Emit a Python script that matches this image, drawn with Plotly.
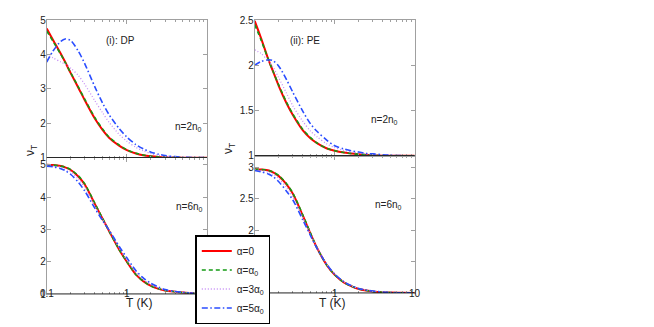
import math
import plotly.graph_objects as go

W, H = 654, 327

# Temperature grid (K)
T = [0.1, 0.12, 0.15, 0.17, 0.2, 0.25, 0.3, 0.4, 0.5, 0.6, 0.8, 1.0, 1.3, 1.6, 2, 2.5, 3, 4, 5, 7, 10]

# (i) DP, n = 2 n0
dp2_a0 = [4.75, 4.42, 4.02, 3.78, 3.45, 3.02, 2.66, 2.13, 1.80, 1.58, 1.35, 1.22, 1.12, 1.07, 1.04, 1.02, 1.01, 1.005, 1.0, 1.0, 1.0]
dp2_a1 = [4.68, 4.38, 4.00, 3.77, 3.46, 3.04, 2.69, 2.16, 1.83, 1.60, 1.37, 1.23, 1.13, 1.08, 1.04, 1.02, 1.01, 1.005, 1.0, 1.0, 1.0]
dp2_a3 = [4.00, 3.90, 3.78, 3.72, 3.60, 3.38, 3.12, 2.65, 2.30, 2.03, 1.68, 1.48, 1.30, 1.20, 1.12, 1.07, 1.045, 1.02, 1.01, 1.0, 1.0]
dp2_a5 = [3.78, 4.10, 4.38, 4.45, 4.40, 4.08, 3.72, 3.05, 2.58, 2.25, 1.85, 1.60, 1.38, 1.26, 1.16, 1.10, 1.06, 1.03, 1.015, 1.005, 1.0]

# (ii) PE, n = 2 n0
pe2_a0 = [2.49, 2.30, 2.05, 1.93, 1.77, 1.58, 1.45, 1.28, 1.19, 1.14, 1.08, 1.055, 1.035, 1.025, 1.015, 1.01, 1.005, 1.0, 1.0, 1.0, 1.0]
pe2_a1 = [2.45, 2.28, 2.05, 1.93, 1.78, 1.59, 1.46, 1.29, 1.20, 1.14, 1.08, 1.055, 1.035, 1.025, 1.015, 1.01, 1.005, 1.0, 1.0, 1.0, 1.0]
pe2_a3 = [2.17, 2.13, 2.04, 1.98, 1.86, 1.69, 1.55, 1.38, 1.27, 1.21, 1.13, 1.09, 1.06, 1.04, 1.03, 1.02, 1.015, 1.01, 1.005, 1.0, 1.0]
pe2_a5 = [2.00, 2.04, 2.06, 2.05, 1.99, 1.84, 1.70, 1.49, 1.35, 1.27, 1.17, 1.11, 1.075, 1.055, 1.04, 1.025, 1.02, 1.01, 1.005, 1.0, 1.0]

# (i) DP, n = 6 n0
dp6_a0 = [5.00, 4.99, 4.96, 4.92, 4.84, 4.63, 4.38, 3.78, 3.32, 2.95, 2.38, 2.00, 1.60, 1.40, 1.25, 1.16, 1.11, 1.07, 1.045, 1.02, 1.01]
dp6_a1 = [5.00, 4.99, 4.96, 4.93, 4.85, 4.65, 4.40, 3.80, 3.33, 2.95, 2.38, 2.00, 1.60, 1.40, 1.25, 1.16, 1.11, 1.07, 1.045, 1.02, 1.01]
dp6_a3 = [4.98, 4.96, 4.92, 4.87, 4.78, 4.55, 4.30, 3.72, 3.30, 2.97, 2.43, 2.05, 1.66, 1.45, 1.29, 1.18, 1.12, 1.07, 1.045, 1.02, 1.01]
dp6_a5 = [4.96, 4.94, 4.88, 4.82, 4.70, 4.45, 4.18, 3.65, 3.27, 2.98, 2.48, 2.12, 1.72, 1.50, 1.33, 1.21, 1.14, 1.08, 1.05, 1.02, 1.01]

# (ii) PE, n = 6 n0
pe6_a0 = [2.97, 2.965, 2.95, 2.92, 2.86, 2.73, 2.58, 2.23, 1.94, 1.72, 1.44, 1.29, 1.17, 1.11, 1.065, 1.04, 1.025, 1.012, 1.006, 1.002, 1.0]
pe6_a1 = [2.97, 2.965, 2.95, 2.925, 2.87, 2.74, 2.59, 2.24, 1.95, 1.72, 1.44, 1.29, 1.17, 1.11, 1.065, 1.04, 1.025, 1.012, 1.006, 1.002, 1.0]
pe6_a3 = [2.96, 2.95, 2.92, 2.89, 2.82, 2.68, 2.53, 2.20, 1.93, 1.72, 1.45, 1.30, 1.18, 1.115, 1.07, 1.045, 1.03, 1.015, 1.008, 1.003, 1.0]
pe6_a5 = [2.95, 2.93, 2.89, 2.85, 2.77, 2.62, 2.48, 2.16, 1.91, 1.71, 1.45, 1.30, 1.18, 1.12, 1.07, 1.045, 1.03, 1.015, 1.008, 1.003, 1.0]

series_names = ["α=0", "α=α<sub>0</sub>", "α=3α<sub>0</sub>", "α=5α<sub>0</sub>"]
x_ticks = [0.1, 1, 10]
x_ticktext = ["0.1", "1", "10"]
# labels visible in the reference (the others are hidden behind the legend)
x_labels_left = ["0.1", "1"]
x_labels_right = ["1", "10"]
x_minor = [0.2, 0.3, 0.4, 0.5, 0.6, 0.7, 0.8, 0.9, 2, 3, 4, 5, 6, 7, 8, 9]

styles = [
    dict(color="#ff0000", width=2.0, dash="solid"),
    dict(color="#139a13", width=1.6, dash="4px,3px"),
    dict(color="#c58cf5", width=1.3, dash="1px,2px"),
    dict(color="#2a4dff", width=1.6, dash="6px,2.5px,1.5px,2.5px"),
]

panels = [
    ("x", "y", [dp2_a0, dp2_a1, dp2_a3, dp2_a5]),
    ("x2", "y2", [pe2_a0, pe2_a1, pe2_a3, pe2_a5]),
    ("x3", "y3", [dp6_a0, dp6_a1, dp6_a3, dp6_a5]),
    ("x4", "y4", [pe6_a0, pe6_a1, pe6_a3, pe6_a5]),
]

fig = go.Figure()
for pi, (xa, ya, ser) in enumerate(panels):
    for si, vals in enumerate(ser):
        fig.add_trace(go.Scatter(
            x=T, y=vals, xaxis=xa, yaxis=ya, mode="lines",
            line=dict(shape="spline", smoothing=0.8, **styles[si]),
            name=series_names[si], showlegend=(pi == 0),
        ))

def px2x(p):
    return p / W

def px2y(p):
    return 1 - p / H

AX = "#a0a0a0"
FAM = "Liberation Sans, Arial, sans-serif"
TF = dict(family=FAM, size=10, color="#222")

def xax(domain, anchor):
    return dict(
        type="log", range=[-1, 1], domain=domain, anchor=anchor, automargin=False,
        showline=True, linecolor=AX, linewidth=1, mirror="ticks",
        ticks="inside", ticklen=4, tickcolor=AX,
        tickmode="array", tickvals=x_ticks, ticktext=x_ticktext,
        showticklabels=False, showgrid=False, zeroline=False,
        minor=dict(ticks="inside", ticklen=2, tickcolor=AX, tickmode="array",
                   tickvals=x_minor, showgrid=False),
    )

def yax(domain, rng, dtick, anchor):
    return dict(
        range=rng, domain=domain, anchor=anchor, automargin=False,
        showline=True, linecolor=AX, linewidth=1, mirror="ticks",
        ticks="inside", ticklen=4, tickcolor=AX, dtick=dtick, tick0=1,
        tickfont=TF, showgrid=False, zeroline=False, ticklabelstandoff=-2,
    )

xl = [px2x(38.7), px2x(199)]
xr = [px2x(246.7), px2x(406.7)]

fig.update_layout(
    width=W, height=H,
    margin=dict(l=0, r=0, t=0, b=0, autoexpand=False),
    paper_bgcolor="white", plot_bgcolor="white",
    font=dict(family=FAM, size=10, color="#222"),
    xaxis=xax(xl, "y"), yaxis=yax([px2y(149.7), px2y(12)], [1, 5], 1, "x"),
    xaxis2=xax(xr, "y2"), yaxis2=yax([px2y(147.7), px2y(12)], [1, 2.5], 0.5, "x2"),
    xaxis3=xax(xl, "y3"), yaxis3=yax([px2y(286), px2y(149.5)], [1, 5.226], 1, "x3"),
    xaxis4=xax(xr, "y4"), yaxis4=yax([px2y(285), px2y(148)], [1, 3.18], 0.5, "x4"),
    legend=dict(
        x=px2x(187.3), y=px2y(227), xanchor="left", yanchor="top",
        bgcolor="white", bordercolor="black", borderwidth=1.5,
        font=dict(family=FAM, size=10, color="#222"),
        tracegroupgap=0, itemwidth=30,
    ),
    showlegend=True,
)

# dark baseline at v=1 in each panel
for xa, ya in [("x", "y"), ("x2", "y2"), ("x3", "y3"), ("x4", "y4")]:
    fig.add_shape(type="line", xref=f"{xa} domain", yref=ya, x0=0, x1=1, y0=1, y1=1,
                  line=dict(color="black", width=1.2), layer="above")

# x tick labels of the bottom panels (placed just under the axis, as in the reference)
for xa, shown in [("x3", x_labels_left), ("x4", x_labels_right)]:
    for tv, tt in zip(x_ticks, x_ticktext):
        if tt in shown:
            fig.add_annotation(text=tt, x=math.log10(tv), xref=xa, y=px2y(293), yref="paper",
                               showarrow=False, font=TF)

ann = dict(showarrow=False, xref="paper", yref="paper", font=dict(family=FAM, size=10, color="#222"))
texts = [
    ("(i): DP", 96, 25),
    ("(ii): PE", 297, 25),
    ("n=2n<sub>0</sub>", 165, 119),
    ("n=2n<sub>0</sub>", 376, 112),
    ("n=6n<sub>0</sub>", 166, 199),
    ("n=6n<sub>0</sub>", 380, 197),
]
for t, xp, yp in texts:
    fig.add_annotation(text=t, x=px2x(xp), y=px2y(yp), **ann)

for xp, yp in [(13, 143), (221, 141)]:
    fig.add_annotation(text="ν<sub>T</sub>", x=px2x(xp), y=px2y(yp), textangle=-90,
                       showarrow=False, xref="paper", yref="paper",
                       font=dict(family=FAM, size=12, color="#222"))

for xp in [116, 324]:
    fig.add_annotation(text="T (K)", x=px2x(xp), y=px2y(304), showarrow=False,
                       xref="paper", yref="paper", font=dict(family=FAM, size=12, color="#222"))

fig.write_html("out.html")
